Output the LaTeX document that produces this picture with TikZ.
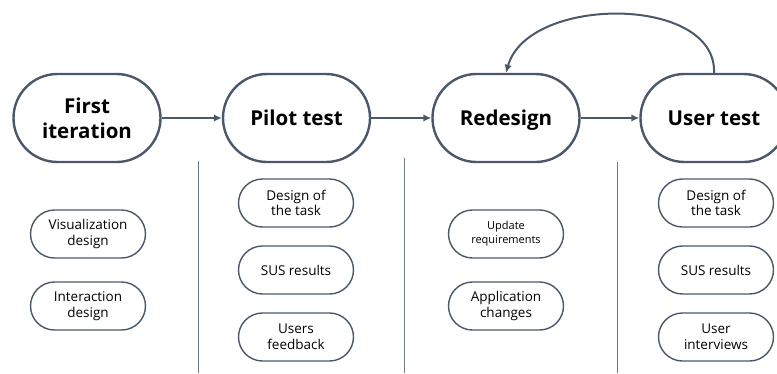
\documentclass[tikz,border=0pt]{standalone}
\usepackage{fontspec}
\setmainfont{Open Sans}
\usetikzlibrary{arrows.meta}
\definecolor{slate}{HTML}{4A586A}
\definecolor{divider}{HTML}{707B88}
\tikzset{
  phase/.style={draw=slate, line width=2.4pt, rectangle, rounded corners=44pt,
    minimum width=147pt, minimum height=88pt, align=center,
    font=\fontsize{20.5}{25}\selectfont\bfseries, inner sep=0pt},
  oneline/.style={text height=15pt, text depth=0pt},
  item/.style={draw=slate, line width=1.4pt, rectangle, rounded corners=24pt,
    minimum width=115pt, minimum height=48pt, align=center,
    font=\fontsize{13.5}{15.7}\selectfont, inner sep=0pt},
  smallitem/.style={item, font=\fontsize{11}{14}\selectfont},
  flow/.style={draw=slate, line width=2pt, -{Latex[length=8pt,width=7.5pt]}},
  sep/.style={draw=divider, line width=1pt}
}
\begin{document}
\begin{tikzpicture}[x=1pt, y=-1pt]
\useasboundingbox (0,0) rectangle (777,373);
\begin{scope}
\clip (0,0) rectangle (777,373);

% main phases
\node[phase] (fi) at (87,118) {First\\iteration};
\node[phase, oneline] (pt) at (296.5,118) {Pilot test};
\node[phase, oneline] (rd) at (506,118) {Redesign};
\node[phase, oneline] (ut) at (714,118) {User test};

% flow between phases
\draw[flow] (fi) -- (pt);
\draw[flow] (pt) -- (rd);
\draw[flow] (rd) -- (ut);
\draw[flow] (ut.north) .. controls (717,-5) and (528,-5) .. (rd.north);

% column dividers
\coordinate (d1t) at (198,161); \coordinate (d1b) at (198,373);
\coordinate (d2t) at (404,158); \coordinate (d2b) at (404,373);
\coordinate (d3t) at (617,162); \coordinate (d3b) at (617,373);
\draw[sep] (d1t) -- (d1b);
\draw[sep] (d2t) -- (d2b);
\draw[sep] (d3t) -- (d3b);

% first iteration items
\node[item] (vd) at (88,234) {Visualization\\design};
\node[item] (id) at (88,306) {Interaction\\design};

% pilot test items
\node[item] (pdt) at (296,203) {Design of\\the task};
\node[item] (psus) at (296,270) {SUS results};
\node[item] (pfb) at (296,337) {Users\\feedback};

% redesign items
\node[smallitem] (ur) at (506,234) {Update\\requirements};
\node[item] (ac) at (506,306) {Application\\changes};

% user test items
\node[item] (udt) at (716,203) {Design of\\the task};
\node[item] (usus) at (716,270) {SUS results};
\node[item] (uiv) at (716,337) {User\\interviews};
\end{scope}
\end{tikzpicture}
\end{document}
